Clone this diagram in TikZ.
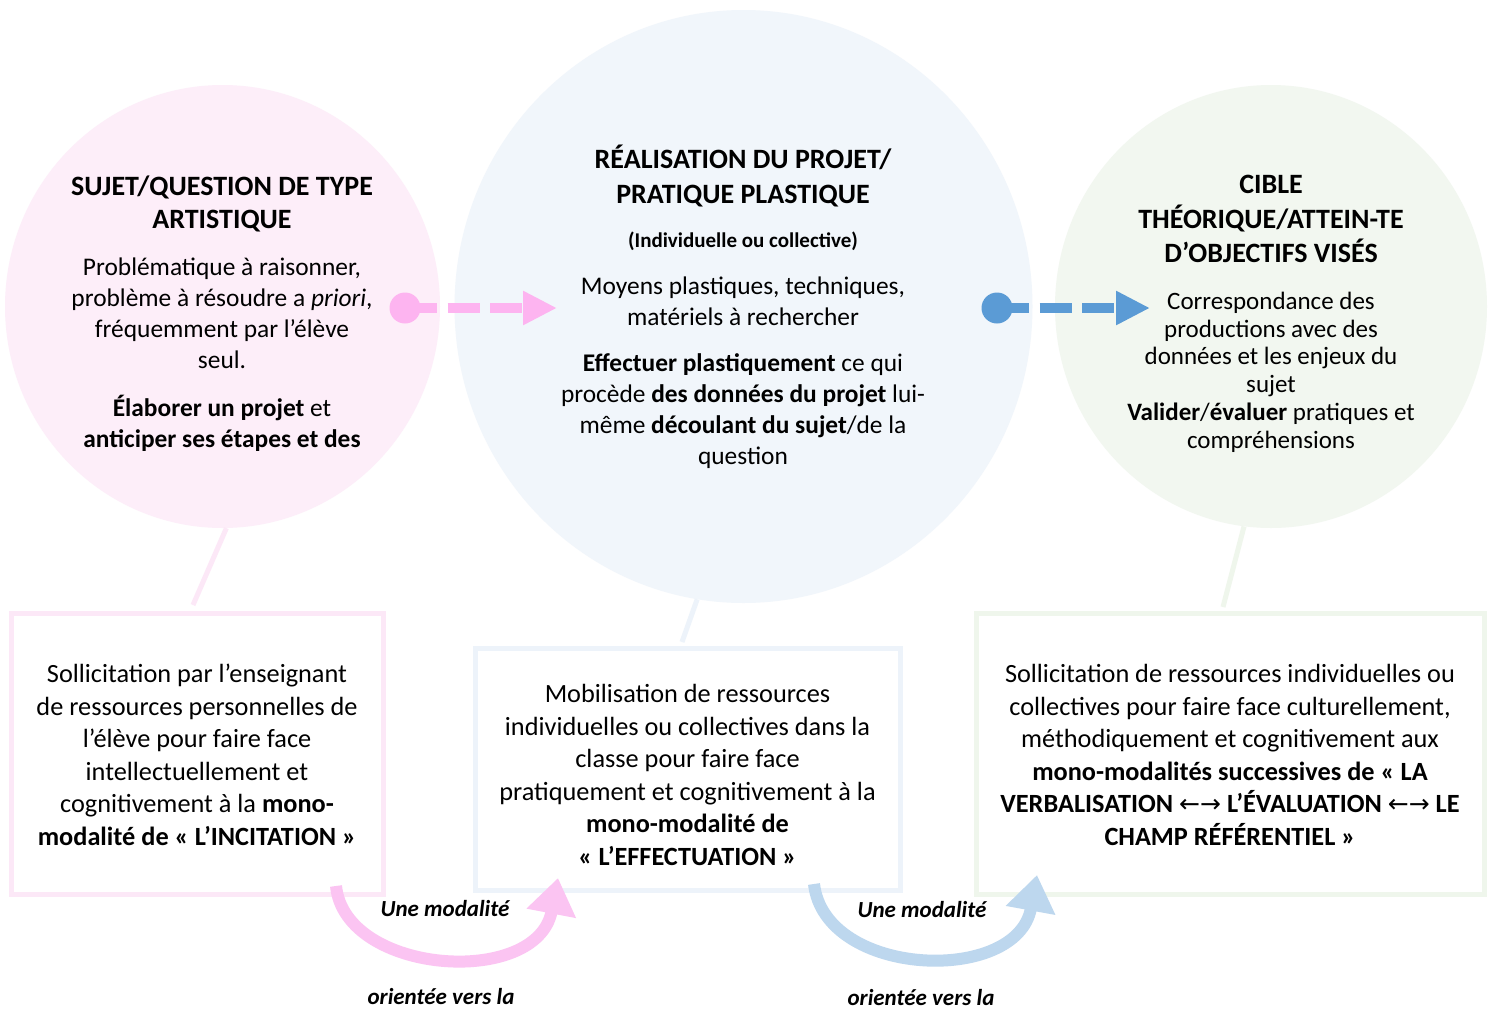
\documentclass[tikz,border=0pt]{standalone}
\usepackage{fontspec}
\setmainfont{Carlito}
\newfontfamily\arr{DejaVu Sans}
\usetikzlibrary{arrows.meta,shapes.geometric}
\definecolor{pinkfill}{RGB}{253,238,249}
\definecolor{bluefill}{RGB}{241,246,251}
\definecolor{greenfill}{RGB}{242,247,240}
\definecolor{pinkline}{RGB}{252,232,247}
\definecolor{blueline}{RGB}{237,243,250}
\definecolor{greenline}{RGB}{239,246,236}
\definecolor{pinkA}{RGB}{253,180,240}
\definecolor{pinkB}{RGB}{251,196,242}
\definecolor{blueA}{RGB}{91,155,213}
\definecolor{blueB}{RGB}{189,215,238}
\tikzset{
  ln/.style={anchor=base, inner sep=0pt, outer sep=0pt},
  ttl/.style={ln, font=\fontsize{28}{34}\selectfont\bfseries},
  cbody/.style={ln, font=\fontsize{25.4}{31}\selectfont},
  gbody/.style={ln, font=\fontsize{25}{28}\selectfont},
  bbody/.style={ln, font=\fontsize{26.3}{32.4}\selectfont},
  sml/.style={ln, font=\fontsize{21}{25}\selectfont\bfseries},
  lbl/.style={ln, font=\fontsize{23}{28}\selectfont\bfseries\itshape},
  bubble/.style={ellipse, inner sep=0pt, draw=none},
  frame/.style={rectangle, line width=5pt, fill=white, inner sep=0pt},
  link/.style={line width=5pt},
  dashedarrow/.style={line width=10pt, dash pattern=on 32pt off 10.5pt, -{Triangle[length=34pt,width=32pt]}},
  curvedarrow/.style={line width=12pt, -{Triangle[length=36pt,width=48pt]}},
  dot/.style={circle, inner sep=0pt, minimum size=31pt},
  arrowglyph/.style={},
}
\newcommand\lrarrows{{\arr\mdseries\fontsize{25}{30}\selectfont ←→}}
\begin{document}
\begin{tikzpicture}[x=1pt,y=-1pt]
\useasboundingbox (0,0) rectangle (1497,1010);
\fill[white] (0,0) rectangle (1497,1010);

% ellipses
\node[bubble, fill=pinkfill, minimum width=435pt, minimum height=443pt] (cp) at (222.5,306.5) {};
\node[bubble, fill=bluefill, minimum width=578pt, minimum height=593pt] (bc) at (743.5,306.5) {};
\node[bubble, fill=greenfill, minimum width=432pt, minimum height=443pt] (gc) at (1271,306.5) {};

% links circle -> box
\coordinate (pe) at (193,605);
\coordinate (be) at (682,642);
\coordinate (ge) at (1223,607);
\draw[link, pinkline] (cp.-89.5) -- (pe);
\draw[link, blueline] (bc.-99) -- (be);
\draw[link, greenline] (gc.-97) -- (ge);

% boxes
\node[frame, draw=pinkline, minimum width=372.5pt, minimum height=281.5pt] (bp) at (197.25,753.75) {};
\node[frame, draw=blueline, minimum width=425pt, minimum height=242pt] (bb) at (687.5,769) {};
\node[frame, draw=greenline, minimum width=508pt, minimum height=281.5pt] (bg) at (1230,753.75) {};

% dashed arrows
\node[dot, fill=pinkA] (pd) at (405,308) {};
\coordinate (pt) at (557,308);
\draw[dashedarrow, pinkA] (pd.center) -- (pt);
\node[dot, fill=blueA] (bd) at (997,308) {};
\coordinate (bt) at (1150,308);
\draw[dashedarrow, blueA] (bd.center) -- (bt);

% curved arrows
\coordinate (ps) at (336,886);
\coordinate (pf) at (558,878);
\draw[curvedarrow, pinkB] (ps) .. controls (345,975) and (537,988) .. (pf);
\coordinate (bs) at (814,884);
\coordinate (bf) at (1037,875);
\draw[curvedarrow, blueB] (bs) .. controls (825,978) and (1017,985) .. (bf);

% pink circle text
\node[ttl] (p1) at (222,195) {SUJET/QUESTION DE TYPE};
\node[ttl] (p2) at (222,228) {ARTISTIQUE};
\node[cbody] (p3) at (222,275.5) {Problématique à raisonner,};
\node[cbody] (p4) at (222,306.5) {problème à résoudre a \textit{priori},};
\node[cbody] (p5) at (222,337.5) {fréquemment par l’élève};
\node[cbody] (p6) at (222,368.5) {seul.};
\node[cbody] (p7) at (222,416) {\textbf{Élaborer un projet} et};
\node[cbody] (p8) at (222,447) {\textbf{anticiper ses étapes et des}};

% blue circle text
\node[ttl] (c1) at (743,168) {RÉALISATION DU PROJET/};
\node[ttl] (c2) at (743,203) {PRATIQUE PLASTIQUE};
\node[sml] (c3) at (743,247.5) {(Individuelle ou collective)};
\node[cbody] (c4) at (743,294.5) {Moyens plastiques, techniques,};
\node[cbody] (c5) at (743,325.5) {matériels à rechercher};
\node[cbody] (c6) at (743,371) {\textbf{Effectuer plastiquement} ce qui};
\node[cbody] (c7) at (743,402) {procède \textbf{des données du projet} lui-};
\node[cbody] (c8) at (743,433) {même \textbf{découlant du sujet}/de la};
\node[cbody] (c9) at (743,464) {question};

% green circle text
\node[ttl] (g1) at (1271,193.5) {CIBLE};
\node[ttl] (g2) at (1271,228) {THÉORIQUE/ATTEIN-TE};
\node[ttl] (g3) at (1271,262.5) {D’OBJECTIFS VISÉS};
\node[gbody] (g4) at (1271,309) {Correspondance des};
\node[gbody] (g5) at (1271,337) {productions avec des};
\node[gbody] (g6) at (1271,364.5) {données et les enjeux du};
\node[gbody] (g7) at (1271,392.5) {sujet};
\node[gbody] (g8) at (1271,420.5) {\textbf{Valider}/\textbf{évaluer} pratiques et};
\node[gbody] (g9) at (1271,448) {compréhensions};

% pink box text
\node[bbody] (q1) at (197,682.5) {Sollicitation par l’enseignant};
\node[bbody] (q2) at (197,715) {de ressources personnelles de};
\node[bbody] (q3) at (197,747.5) {l’élève pour faire face};
\node[bbody] (q4) at (197,780) {intellectuellement et};
\node[bbody] (q5) at (197,812.5) {cognitivement à la \textbf{mono-}};
\node[bbody] (q6) at (197,845) {\textbf{modalité de « L’INCITATION »}};

% blue box text
\node[bbody] (r1) at (687.5,702.5) {Mobilisation de ressources};
\node[bbody] (r2) at (687.5,735) {individuelles ou collectives dans la};
\node[bbody] (r3) at (687.5,767.5) {classe pour faire face};
\node[bbody] (r4) at (687.5,800) {pratiquement et cognitivement à la};
\node[bbody] (r5) at (687.5,832.5) {\textbf{mono-modalité de}};
\node[bbody] (r6) at (687.5,865) {\textbf{« L’EFFECTUATION »}};

% green box text
\node[bbody] (s1) at (1230,682.5) {Sollicitation de ressources individuelles ou};
\node[bbody] (s2) at (1230,715) {collectives pour faire face culturellement,};
\node[bbody] (s3) at (1230,747.5) {méthodiquement et cognitivement aux};
\node[bbody] (s4) at (1230,780) {\textbf{mono-modalités successives de « LA}};
\node[bbody] (s5) at (1230,812.5) {\textbf{VERBALISATION \lrarrows{} L’ÉVALUATION \lrarrows{} LE}};
\node[bbody] (s6) at (1230,845) {\textbf{CHAMP RÉFÉRENTIEL »}};

% arrow labels
\node[lbl] (l1) at (445,916) {Une modalité};
\node[lbl] (l2) at (441,1004) {orientée vers la};
\node[lbl] (l3) at (922,917) {Une modalité};
\node[lbl] (l4) at (921,1005) {orientée vers la};
\end{tikzpicture}
\end{document}
